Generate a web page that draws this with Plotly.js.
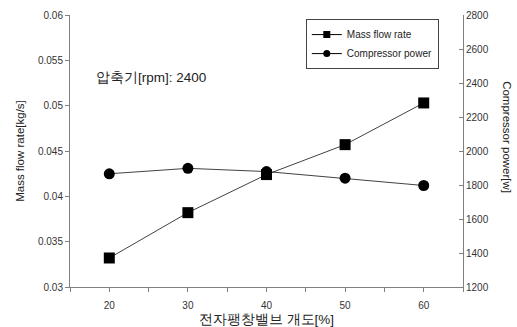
<!DOCTYPE html>
<html><head><meta charset="utf-8">
<script src="https://cdn.plot.ly/plotly-3.0.1.min.js"></script>
<style>html,body{margin:0;padding:0;background:#fff}#c{width:517px;height:327px}</style>
</head><body><div id="c"></div>
<script>
const opening = [20, 30, 40, 50, 60];
const massFlow = [0.0332, 0.0382, 0.0424, 0.0457, 0.0503];
const compPower = [1866, 1898, 1879, 1840, 1797];
const xTicks = [20, 30, 40, 50, 60];
const seriesNames = ['Mass flow rate', 'Compressor power'];

const F = 'Arial, "Liberation Sans", sans-serif';
const traces = [
  {x: opening, y: massFlow, name: seriesNames[0], type: 'scatter', mode: 'lines+markers', showlegend: false,
   line: {color: '#111', width: 0.8}, marker: {symbol: 'square', size: 11, color: '#000'}},
  {x: opening, y: compPower, name: seriesNames[1], type: 'scatter', mode: 'lines+markers', yaxis: 'y2', showlegend: false,
   line: {color: '#111', width: 0.8}, marker: {symbol: 'circle', size: 11, color: '#000'}},
  {x: [null], y: [null], name: seriesNames[0], type: 'scatter', mode: 'lines+markers',
   line: {color: '#000', width: 1}, marker: {symbol: 'square', size: 7, color: '#000'}},
  {x: [null], y: [null], name: seriesNames[1], type: 'scatter', mode: 'lines+markers',
   line: {color: '#000', width: 1}, marker: {symbol: 'circle', size: 7, color: '#000'}}
];
const layout = {
  width: 517, height: 327,
  margin: {l: 70, r: 54, t: 15, b: 40},
  paper_bgcolor: '#fff', plot_bgcolor: '#fff',
  font: {family: F, size: 10, color: '#333'},
  showlegend: true,
  legend: {x: 0.6, y: 0.985, xanchor: 'left', yanchor: 'top', bgcolor: '#fff',
    bordercolor: '#444', borderwidth: 1, font: {size: 10, color: '#222'}, tracegroupgap: 0, itemwidth: 30},
  xaxis: {range: [15, 65], tickvals: xTicks, ticks: 'outside', ticklen: 4, tickcolor: '#808080',
    minor: {dtick: 5, tick0: 15, ticks: 'outside', ticklen: 4, tickcolor: '#808080'},
    showline: true, linecolor: '#808080', linewidth: 1, showgrid: false, zeroline: false,
    tickfont: {size: 10, color: '#333'}, ticklabelstandoff: 5,
    title: {text: '전자팽창밸브 개도[%]', font: {size: 13.5, color: '#222'}, standoff: 6}},
  yaxis: {range: [0.03, 0.06], dtick: 0.005, ticks: 'outside', ticklen: 4, tickcolor: '#808080',
    showline: true, linecolor: '#808080', linewidth: 1, showgrid: false, zeroline: false,
    tickfont: {size: 10, color: '#333'},
    title: {text: 'Mass flow rate[kg/s]', font: {size: 11.5, color: '#222'}, standoff: 10}},
  yaxis2: {range: [1200, 2800], dtick: 200, overlaying: 'y', side: 'right', ticks: 'inside', ticklen: 4,
    tickcolor: '#808080', showline: true, linecolor: '#808080', linewidth: 1, showgrid: false, zeroline: false,
    tickfont: {size: 10, color: '#333'}},
  annotations: [
    {text: '압축기[rpm]: 2400', xref: 'paper', yref: 'paper', x: 0.062, y: 0.77, xanchor: 'left', yanchor: 'middle',
     showarrow: false, font: {size: 13.5, color: '#222'}},
    {text: 'Compressor power[w]', xref: 'paper', yref: 'paper', x: 1.11, y: 0.55, textangle: 90,
     xanchor: 'center', yanchor: 'middle', showarrow: false, font: {size: 11.5, color: '#222'}}
  ]
};
Plotly.newPlot('c', traces, layout, {displayModeBar: false, staticPlot: true});
</script></body></html>
